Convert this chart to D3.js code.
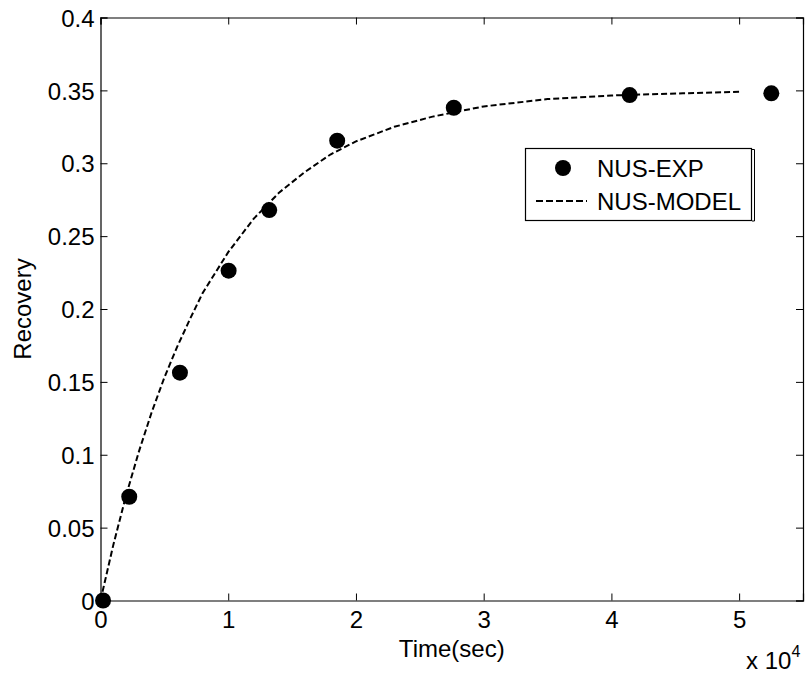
<!DOCTYPE html>
<html>
<head>
<meta charset="utf-8">
<script src="https://cdn.jsdelivr.net/npm/d3@7"></script>
<style>
  body { margin: 0; background: #fff; }
  text { font-family: 'Liberation Sans', Arial, sans-serif; fill: #000; }
</style>
</head>
<body>
<div class="canvas"></div>
<script>
// Experimental points (time in sec, recovery)
const expTime = [200, 2250, 6220, 10030, 13210, 18530, 27660, 41430, 52520]
const expRecovery = [0, 0.0712, 0.1563, 0.2263, 0.2679, 0.3155, 0.3381, 0.3468, 0.348]

// Model curve
const modelTime = [0, 1000, 2000, 3000, 4000, 5000, 6000, 7000, 8000, 10000, 12000, 14000,
  16000, 18000, 20000, 23000, 26000, 30000, 35000, 40000, 45600, 50000]
const modelRecovery = [0, 0.038, 0.072, 0.102, 0.129, 0.153, 0.174, 0.193, 0.211, 0.239, 0.262, 0.28,
  0.294, 0.306, 0.315, 0.325, 0.332, 0.339, 0.344, 0.3465, 0.348, 0.349]

// Tick labels
const xTicks = [0, 10000, 20000, 30000, 40000, 50000]
const yTicks = [0, 0.05, 0.1, 0.15, 0.2, 0.25, 0.3, 0.35, 0.4]

const width = 806
const height = 678
const margin = {top: 17.5, right: 3, bottom: 77.5, left: 100.5}
const graphWidth = width - margin.left - margin.right
const graphHeight = height - margin.top - margin.bottom

const svg = d3.select('.canvas')
  .append('svg')
    .attr('width', width)
    .attr('height', height)

const graph = svg.append('g')
  .attr('transform', `translate(${margin.left},${margin.top})`)

// Scales
const x = d3.scaleLinear().domain([0, 55000]).range([0, graphWidth])
const y = d3.scaleLinear().domain([0, 0.4]).range([graphHeight, 0])

// Axes, MATLAB style: ticks inside, box on
const tickLen = 7
const xAxisGroup = graph.append('g')
  .attr('transform', `translate(0, ${graphHeight})`)
  .call(d3.axisBottom(x).tickValues(xTicks).tickSize(-tickLen).tickPadding(10)
    .tickFormat(d => d / 10000))
const yAxisGroup = graph.append('g')
  .call(d3.axisLeft(y).tickValues(yTicks).tickSize(-tickLen).tickPadding(6)
    .tickFormat(d => d3.format('')(+d.toFixed(2))))
const topAxisGroup = graph.append('g')
  .call(d3.axisTop(x).tickValues(xTicks).tickSize(-tickLen).tickFormat(''))
const rightAxisGroup = graph.append('g')
  .attr('transform', `translate(${graphWidth}, 0)`)
  .call(d3.axisRight(y).tickValues(yTicks).tickSize(-tickLen).tickFormat(''))

graph.selectAll('.domain').attr('stroke', '#000').attr('stroke-width', 1.2)
graph.selectAll('.tick line').attr('stroke', '#000').attr('stroke-width', 1)
graph.selectAll('.tick text')
  .attr('font-size', 24)
  .attr('font-family', "'Liberation Sans', Arial, sans-serif")
  .attr('fill', '#000')
yAxisGroup.selectAll('.tick text').attr('dy', '0.36em')
xAxisGroup.selectAll('.tick text').attr('dy', '0.72em')

// Axis labels
svg.append('text')
  .attr('x', margin.left + graphWidth / 2)
  .attr('y', 657)
  .attr('text-anchor', 'middle')
  .attr('font-size', 24)
  .text('Time(sec)')

svg.append('text')
  .attr('transform', `translate(31, ${margin.top + graphHeight / 2}) rotate(-90)`)
  .attr('text-anchor', 'middle')
  .attr('font-size', 24)
  .text('Recovery')

// Exponent label
const expo = svg.append('text')
  .attr('x', 746)
  .attr('y', 669)
  .attr('font-size', 24)
expo.append('tspan').text('x 10')
expo.append('tspan').attr('dy', -12).attr('font-size', 16).text('4')

// Model line
const line = d3.line()
  .x((d, i) => x(modelTime[i]))
  .y(d => y(d))

graph.append('path')
  .datum(modelRecovery)
  .attr('d', line)
  .attr('fill', 'none')
  .attr('stroke', '#000')
  .attr('stroke-width', 2)
  .attr('stroke-dasharray', '6,3')

// Experimental markers
graph.selectAll('circle.exp')
  .data(expRecovery)
  .enter()
  .append('circle')
    .attr('class', 'exp')
    .attr('cx', (d, i) => x(expTime[i]))
    .attr('cy', d => y(d))
    .attr('r', 8)
    .attr('fill', '#000')

// Legend
const legend = svg.append('g')
legend.append('rect')
  .attr('x', 525.5).attr('y', 148.5)
  .attr('width', 226).attr('height', 72)
  .attr('fill', '#fff').attr('stroke', '#000').attr('stroke-width', 1.2)
legend.append('path')
  .attr('d', 'M752,149.5 H754.5 V221 H752')
  .attr('fill', 'none').attr('stroke', '#000').attr('stroke-width', 1)
legend.append('circle')
  .attr('cx', 563).attr('cy', 168).attr('r', 8).attr('fill', '#000')
legend.append('text')
  .attr('x', 597).attr('y', 176.5).attr('font-size', 24).text('NUS-EXP')
legend.append('line')
  .attr('x1', 536).attr('x2', 587).attr('y1', 201).attr('y2', 201)
  .attr('stroke', '#000').attr('stroke-width', 2).attr('stroke-dasharray', '7,3')
legend.append('text')
  .attr('x', 597).attr('y', 209.5).attr('font-size', 24).text('NUS-MODEL')
</script>
</body>
</html>
